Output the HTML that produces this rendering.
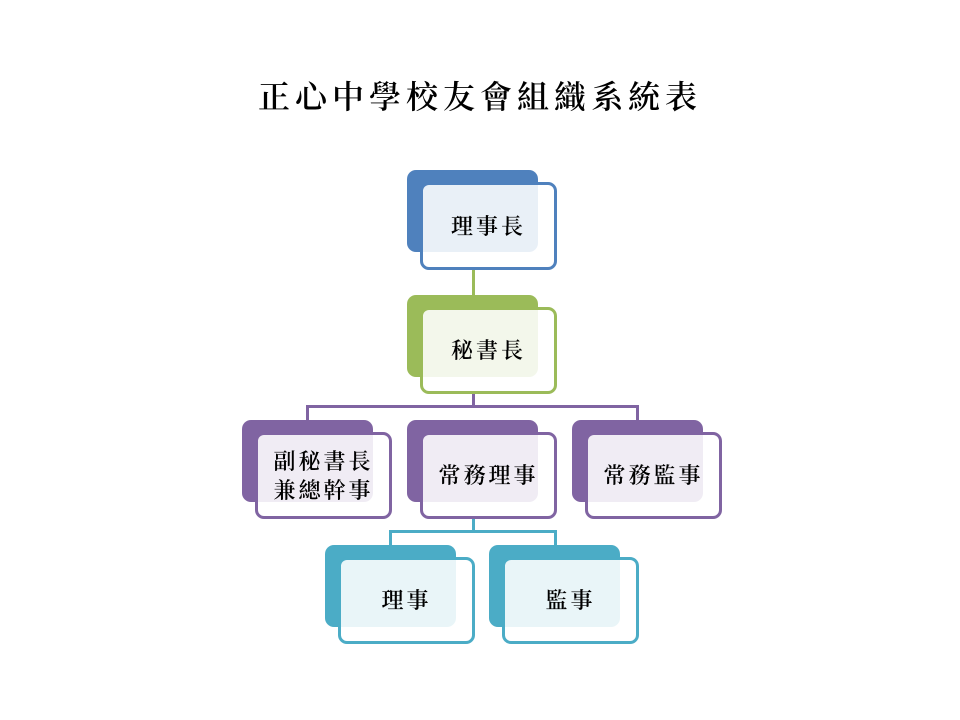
<!DOCTYPE html>
<html><head><meta charset="utf-8"><style>
body{margin:0;width:960px;height:720px;background:#fff;position:relative;overflow:hidden;font-family:"Liberation Serif","Noto Serif CJK TC","Noto Serif CJK SC",serif;}
.b{position:absolute;border-radius:9px;}
.f{position:absolute;border-radius:9px;box-sizing:border-box;border:3px solid;background:rgba(255,255,255,0.88);display:flex;align-items:center;justify-content:center;text-align:center;font-size:22px;font-weight:600;letter-spacing:3px;line-height:29px;color:#000;}
.l{position:absolute;}
</style></head><body>
<div style="position:absolute;left:0;width:960px;top:72px;text-align:center;font-size:32px;font-weight:600;letter-spacing:5px;">正心中學校友會組織系統表</div>

<div class="l" style="left:472px;top:268px;width:3px;height:28px;background:#9bbb59"></div>
<div class="l" style="left:472px;top:392px;width:3px;height:15px;background:#8064a2"></div>
<div class="l" style="left:306px;top:405px;width:333px;height:3px;background:#8064a2"></div>
<div class="l" style="left:306px;top:405px;width:3px;height:16px;background:#8064a2"></div>
<div class="l" style="left:636px;top:405px;width:3px;height:16px;background:#8064a2"></div>
<div class="l" style="left:472px;top:517px;width:3px;height:15px;background:#4bacc6"></div>
<div class="l" style="left:389px;top:530px;width:168px;height:3px;background:#4bacc6"></div>
<div class="l" style="left:389px;top:530px;width:3px;height:16px;background:#4bacc6"></div>
<div class="l" style="left:554px;top:530px;width:3px;height:16px;background:#4bacc6"></div>

<div class="b" style="left:407px;top:170px;width:131px;height:82px;background:#4f81bd"></div>
<div class="f" style="left:420px;top:182px;width:137px;height:88px;border-color:#4f81bd">理事長</div>

<div class="b" style="left:407px;top:295px;width:131px;height:82px;background:#9bbb59"></div>
<div class="f" style="left:420px;top:307px;width:137px;height:87px;border-color:#9bbb59">秘書長</div>

<div class="b" style="left:242px;top:420px;width:131px;height:82px;background:#8064a2"></div>
<div class="f" style="left:255px;top:432px;width:137px;height:87px;border-color:#8064a2">副秘書長<br>兼總幹事</div>

<div class="b" style="left:407px;top:420px;width:131px;height:82px;background:#8064a2"></div>
<div class="f" style="left:420px;top:432px;width:137px;height:87px;border-color:#8064a2">常務理事</div>

<div class="b" style="left:572px;top:420px;width:131px;height:82px;background:#8064a2"></div>
<div class="f" style="left:585px;top:432px;width:137px;height:87px;border-color:#8064a2">常務監事</div>

<div class="b" style="left:325px;top:545px;width:131px;height:82px;background:#4bacc6"></div>
<div class="f" style="left:338px;top:557px;width:137px;height:87px;border-color:#4bacc6">理事</div>

<div class="b" style="left:489px;top:545px;width:131px;height:82px;background:#4bacc6"></div>
<div class="f" style="left:502px;top:557px;width:137px;height:87px;border-color:#4bacc6">監事</div>
</body></html>
